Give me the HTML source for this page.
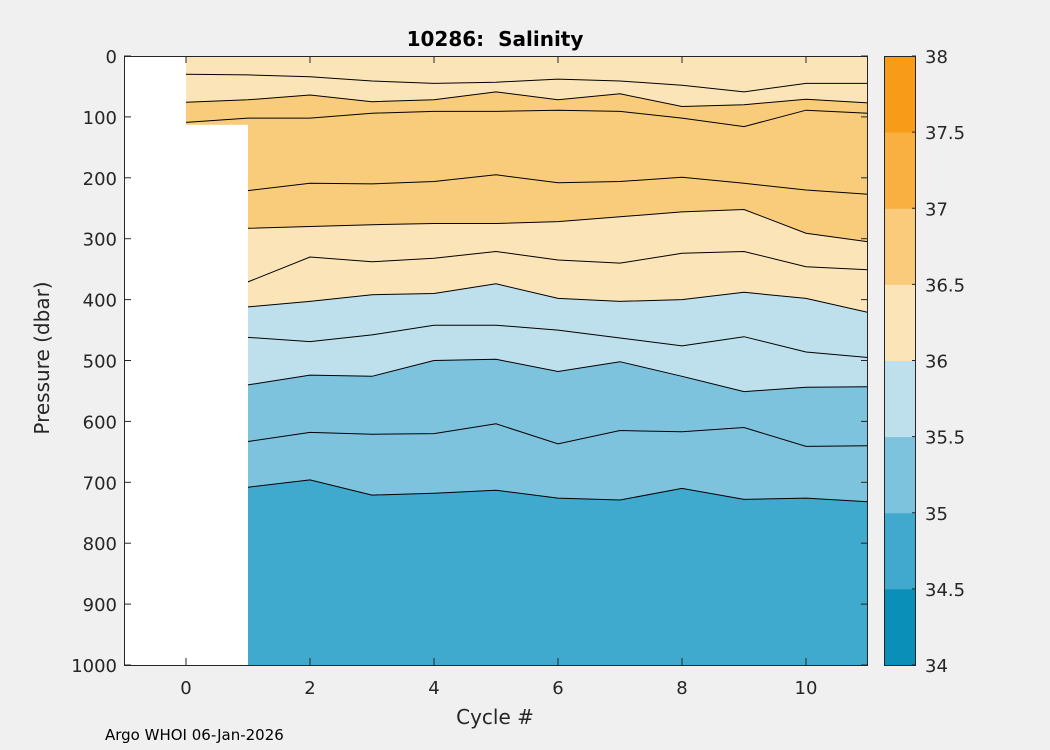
<!DOCTYPE html>
<html><head><meta charset="utf-8"><style>
body{margin:0;background:#f0f0f0;}
svg{display:block;font-family:"DejaVu Sans",sans-serif;}
</style></head><body>
<svg id="c" width="1050" height="750"></svg>
<script>
const cycles=[0,1,2,3,4,5,6,7,8,9,10,11];
const L1=[30,31,34,41,45,43,38,41,48,59,45,45];
const L2=[76,72,64,75,72,59,72,62,83,80,71,77];
const L3=[109,102,102,94,91,91,89,91,102,116,89,94];
const L4=[221,221,209,210,206,195,208,206,199,209,220,227];
const L5=[283,283,280,277,275,275,272,264,256,252,291,305];
const L6=[371,371,330,338,332,321,335,340,324,321,346,351];
const L7=[412,412,403,392,390,374,398,403,400,388,398,421];
const L8=[462,462,469,458,442,442,450,463,476,461,486,495];
const L9=[540,540,524,526,500,498,518,502,526,551,544,543];
const L10=[633,633,618,621,620,604,637,615,617,610,641,640];
const L11=[708,708,696,721,718,713,726,729,710,728,726,732];
const xTicks=[0,2,4,6,8,10];
const yTicks=[0,100,200,300,400,500,600,700,800,900,1000];
const cbTicks=[34,34.5,35,35.5,36,36.5,37,37.5,38];
const cbColors=['#0a8fb9','#41a9ce','#7ec3dd','#bee0ec','#fce4b9','#f9cb7b','#f9b041','#f89b19'];

const NS='http://www.w3.org/2000/svg';
const svg=document.getElementById('c');
function el(t,a,p){const e=document.createElementNS(NS,t);for(const k in a)e.setAttribute(k,a[k]);(p||svg).appendChild(e);return e;}
const X0=124,X1=868,Y0=56,Y1=665;
const xs=c=>X0+(c+1)/12*(X1-X0);
const ys=d=>Y0+d/1000*(Y1-Y0);

const plot=el('g',{});


const cp=el('clipPath',{id:'cp'});
el('rect',{x:X0,y:Y0,width:X1-X0,height:Y1-Y0},cp);
plot.setAttribute('clip-path','url(#cp)');

const bands=[[null,'#fce4b9'],[L2,'#f9cc7c'],[L5,'#fce4b9'],[L7,'#bee0ec'],[L9,'#7ec3dd'],[L11,'#40a9ce']];
function pts(arr){return cycles.map((c,i)=>xs(c).toFixed(1)+','+ys(arr[i]).toFixed(1)).join(' ');}
bands.forEach((b,i)=>{
  let d;
  if(!b[0]) d=xs(0)+','+Y0+' '+X1+','+Y0+' '+X1+','+(Y1+5)+' '+xs(0)+','+(Y1+5);
  else d=pts(b[0])+' '+xs(11)+','+(Y1+5)+' '+xs(0)+','+(Y1+5);
  const p=el('polygon',{points:d,fill:b[1]},plot);
  
  
});
[L1,L2,L3,L4,L5,L6,L7,L8,L9,L10,L11].forEach((a,i)=>{
  const p=el('polyline',{points:pts(a),fill:'none',stroke:'#000','stroke-width':1},plot);
  
  
});
const w1=el('rect',{x:X0,y:Y0,width:xs(0)-X0,height:Y1-Y0,fill:'#fff'},plot);


const w2=el('rect',{x:xs(0),y:ys(113),width:xs(1)-xs(0),height:Y1-ys(113),fill:'#fff'},plot);



const box=el('rect',{x:X0+0.5,y:Y0+0.5,width:X1-X0-1,height:Y1-Y0,fill:'none',stroke:'#262626','stroke-width':1});


xTicks.forEach(t=>{
  const x=xs(t);
  el('line',{x1:x,y1:Y1,x2:x,y2:Y1-7,stroke:'#262626'});
  el('line',{x1:x,y1:Y0,x2:x,y2:Y0+7,stroke:'#262626'});
  const tx=el('text',{x:x,y:Y1+29,'text-anchor':'middle','font-size':18,fill:'#262626'});
  tx.textContent=t;
  
  
});
yTicks.forEach(t=>{
  const y=ys(t);
  el('line',{x1:X0,y1:y,x2:X0+7,y2:y,stroke:'#262626'});
  el('line',{x1:X1,y1:y,x2:X1-7,y2:y,stroke:'#262626'});
  const tx=el('text',{x:X0-7,y:y+7,'text-anchor':'end','font-size':18,fill:'#262626'});
  tx.textContent=t;
  
  
});
const CB0=884,CB1=916;
const cbh=(Y1-Y0)/cbColors.length;
cbColors.forEach((c,i)=>{
  const r=el('rect',{x:CB0,y:Y1-(i+1)*cbh,width:CB1-CB0,height:cbh+0.5,fill:c});
  
  
});
el('rect',{x:CB0+0.5,y:Y0+0.5,width:CB1-CB0-1,height:Y1-Y0,fill:'none',stroke:'#262626'});
cbTicks.forEach((t,i)=>{
  const y=Y1-i*cbh;
  el('line',{x1:CB1,y1:y,x2:CB1-4,y2:y,stroke:'#262626'});
  const tx=el('text',{x:CB1+9,y:y+7,'font-size':18,fill:'#262626'});
  tx.textContent=t;
  
  
});
</script>
<div style="position:absolute;left:0;top:0;width:1050px;height:750px;pointer-events:none;font-family:'DejaVu Sans',sans-serif;color:#262626;">
<div style="position:absolute;left:345px;width:300px;top:27px;text-align:center;font-weight:bold;font-size:20px;color:#000;white-space:pre;">10286:  Salinity</div>
<div style="position:absolute;left:395px;width:200px;top:705px;text-align:center;font-size:20px;">Cycle #</div>
<div style="position:absolute;left:-58px;width:200px;top:346px;text-align:center;font-size:20px;transform:rotate(-90deg);">Pressure (dbar)</div>
<div style="position:absolute;left:105px;top:726px;font-size:15px;color:#000;">Argo WHOI 06-Jan-2026</div>
</div>
</body></html>
